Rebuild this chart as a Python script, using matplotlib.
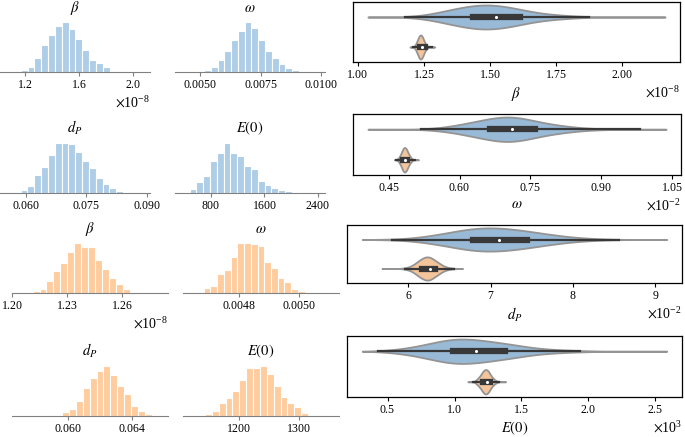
import numpy as np
import matplotlib
matplotlib.use('Agg')
import matplotlib.pyplot as plt
from matplotlib.mlab import GaussianKDE

plt.rcParams['font.family'] = 'serif'
plt.rcParams['font.serif'] = ['Liberation Serif', 'DejaVu Serif']
plt.rcParams['mathtext.fontset'] = 'stix'
plt.rcParams['axes.formatter.use_mathtext'] = True

W, H = 685, 437

titles = [r'$\beta$', r'$\omega$', r'$d_P$', r'$E(0)$']

# histogram bar heights, with (first bin edge, bin width)
beta_b = [5, 15, 43, 80, 112, 138, 148, 128, 100, 65, 37, 27, 15, 4, 4]
beta_b_bins = (1.168e-8, 0.0505e-8)
omega_b = [5, 15, 37, 63, 95, 123, 148, 130, 97, 62, 43, 25, 11, 5, 3]
omega_b_bins = (0.005165, 0.00028)
dp_b = [1, 2, 10, 22, 53, 78, 114, 148, 148, 145, 123, 97, 74, 45, 28, 15, 6, 2]
dp_b_bins = (0.05536, 0.001694)
e0_b = [2, 12, 32, 50, 95, 120, 148, 120, 112, 82, 73, 37, 25, 16, 10, 5, 2]
e0_b_bins = (381.0, 102.0)

beta_o = [2, 6, 13, 36, 65, 90, 123, 148, 137, 138, 100, 73, 44, 27, 12, 4]
beta_o_bins = (1.2073e-8, 0.0038e-8)
omega_o = [2, 4, 14, 20, 57, 70, 107, 148, 148, 145, 140, 94, 75, 45, 33, 13, 5, 2, 1]
omega_o_bins = (0.004641, 0.0000221)
dp_o = [3, 13, 22, 46, 84, 115, 138, 151, 124, 90, 66, 30, 16, 7, 3]
dp_o_bins = (0.05916, 0.000436)
e0_o = [6, 16, 39, 56, 77, 108, 146, 145, 150, 128, 90, 58, 39, 26, 9, 3, 2]
e0_o_bins = (1143.5, 11.5)

hist_xlim_b = [(1.015e-8, 2.123e-8), (0.003967, 0.010165), (0.05363, 0.09082), (266, 2509)]
hist_xlim_o = [(1.1998e-8, 1.2853e-8), (0.004617, 0.00513), (0.05644, 0.06629), (1107, 1367.5)]
hist_ticks_b = [[1.2e-8, 1.6e-8, 2.0e-8], [0.005, 0.0075, 0.01], [0.06, 0.075, 0.09], [800, 1600, 2400]]
hist_ticks_o = [[1.20e-8, 1.23e-8, 1.26e-8], [0.0048, 0.0050], [0.060, 0.064], [1200, 1300]]

# violin extents (lo, hi) and inner box (whisker lo, q1, median, q3, whisker hi)
beta_b_span = (1.039e-8, 2.163e-8)
beta_b_box = (1.18e-8, 1.435e-8, 1.524e-8, 1.614e-8, 1.874e-8)
beta_o_span = (1.198e-8, 1.292e-8)
beta_o_box = (1.211e-8, 1.236e-8, 1.245e-8, 1.254e-8, 1.280e-8)
omega_b_span = (0.406e-2, 1.037e-2)
omega_b_box = (0.518e-2, 0.664e-2, 0.711e-2, 0.760e-2, 0.981e-2)
omega_o_span = (0.462e-2, 0.513e-2)
omega_o_box = (0.466e-2, 0.480e-2, 0.485e-2, 0.489e-2, 0.506e-2)
dp_b_span = (5.44e-2, 9.14e-2)
dp_b_box = (5.80e-2, 6.79e-2, 7.10e-2, 7.44e-2, 8.56e-2)
dp_o_span = (5.68e-2, 6.66e-2)
dp_o_box = (5.96e-2, 6.17e-2, 6.26e-2, 6.32e-2, 6.56e-2)
e0_b_span = (0.31e3, 2.586e3)
e0_b_box = (0.426e3, 0.99e3, 1.16e3, 1.377e3, 1.941e3)
e0_o_span = (1.099e3, 1.382e3)
e0_o_box = (1.14e3, 1.21e3, 1.239e3, 1.262e3, 1.33e3)

vio_ticks = [[1.0e-8, 1.25e-8, 1.5e-8, 1.75e-8, 2.0e-8],
             [0.0045, 0.006, 0.0075, 0.009, 0.0105],
             [0.06, 0.07, 0.08, 0.09],
             [500, 1000, 1500, 2000, 2500]]

BLUE_H, ORANGE_H = '#aecde6', '#ffcc9e'
BLUE_V, ORANGE_V = '#98bad6', '#f4c49a'

fig = plt.figure(figsize=(W / 100, H / 100), dpi=100)


def px_axes(x0, x1, ytop, ybot):
    return fig.add_axes([x0 / W, 1 - ybot / H, (x1 - x0) / W, (ybot - ytop) / H])


def hist_panel(ax, counts, bins, color, xlim, ticks, title):
    start, width = bins
    edges = start + width * np.arange(len(counts) + 1)
    ax.bar(edges[:-1], counts, width=width, align='edge', color=color,
           edgecolor='white', linewidth=0.8)
    ax.set_xlim(*xlim)
    ax.set_xticks(ticks)
    ax.set_yticks([])
    for s in ['left', 'right', 'top']:
        ax.spines[s].set_visible(False)
    ax.spines['bottom'].set_color('0.5')
    ax.tick_params(axis='x', color='0.5', labelsize=8.5, length=3, pad=2)
    ax.set_title(title, fontsize=10.5)


def violin(ax, pos, counts, bins, span, box, color):
    start, width = bins
    centers = start + width * (np.arange(len(counts)) + 0.5)
    samples = np.repeat(centers, counts)
    kde = GaussianKDE(samples, bw_method=0.4)
    xs = np.linspace(span[0], span[1], 400)
    dens = kde.evaluate(xs)
    dens = dens / dens.max() * 0.4
    ax.fill_between(xs, pos - dens, pos + dens, facecolor=color,
                    edgecolor='0.58', linewidth=1.3, zorder=2)
    lo, q1, med, q3, hi = box
    ax.plot([lo, hi], [pos, pos], color='0.22', lw=1.6, zorder=3)
    ax.plot([q1, q3], [pos, pos], color='0.22', lw=4.5, zorder=4)
    ax.scatter([med], [pos], s=5, color='white', zorder=5, linewidths=0)


# left: histograms
hist_b = [(beta_b, beta_b_bins), (omega_b, omega_b_bins), (dp_b, dp_b_bins), (e0_b, e0_b_bins)]
hist_o = [(beta_o, beta_o_bins), (omega_o, omega_o_bins), (dp_o, dp_o_bins), (e0_o, e0_o_bins)]

cols_b = [(0, 150), (175, 325)]
cols_o = [(12, 168), (183, 339)]
rows_b = [(20, 72), (141, 193)]
rows_o = [(241, 293), (364, 416)]

for i in range(4):
    r, c = divmod(i, 2)
    ax = px_axes(*cols_b[c], *rows_b[r])
    hist_panel(ax, hist_b[i][0], hist_b[i][1], BLUE_H, hist_xlim_b[i], hist_ticks_b[i], titles[i])
    ax = px_axes(*cols_o[c], *rows_o[r])
    hist_panel(ax, hist_o[i][0], hist_o[i][1], ORANGE_H, hist_xlim_o[i], hist_ticks_o[i], titles[i])

# right: violins
vio_rects = [(353, 680, 2, 62), (353, 681, 114, 175), (347, 682, 225, 283), (347, 682, 336, 397)]
spans_b = [beta_b_span, omega_b_span, dp_b_span, e0_b_span]
spans_o = [beta_o_span, omega_o_span, dp_o_span, e0_o_span]
boxes_b = [beta_b_box, omega_b_box, dp_b_box, e0_b_box]
boxes_o = [beta_o_box, omega_o_box, dp_o_box, e0_o_box]

for i in range(4):
    ax = px_axes(*vio_rects[i])
    violin(ax, 0, hist_b[i][0], hist_b[i][1], spans_b[i], boxes_b[i], BLUE_V)
    violin(ax, 1, hist_o[i][0], hist_o[i][1], spans_o[i], boxes_o[i], ORANGE_V)
    ax.set_ylim(1.5, -0.5)
    ax.set_yticks([])
    ax.set_xticks(vio_ticks[i])
    ax.ticklabel_format(axis='x', style='sci', scilimits=(0, 0))
    for s in ax.spines.values():
        s.set_linewidth(0.9)
    ax.tick_params(axis='x', labelsize=8.5, length=3, pad=2)
    ax.set_xlabel(titles[i], fontsize=10.5, labelpad=3)

fig.savefig('out.png', dpi=100)
